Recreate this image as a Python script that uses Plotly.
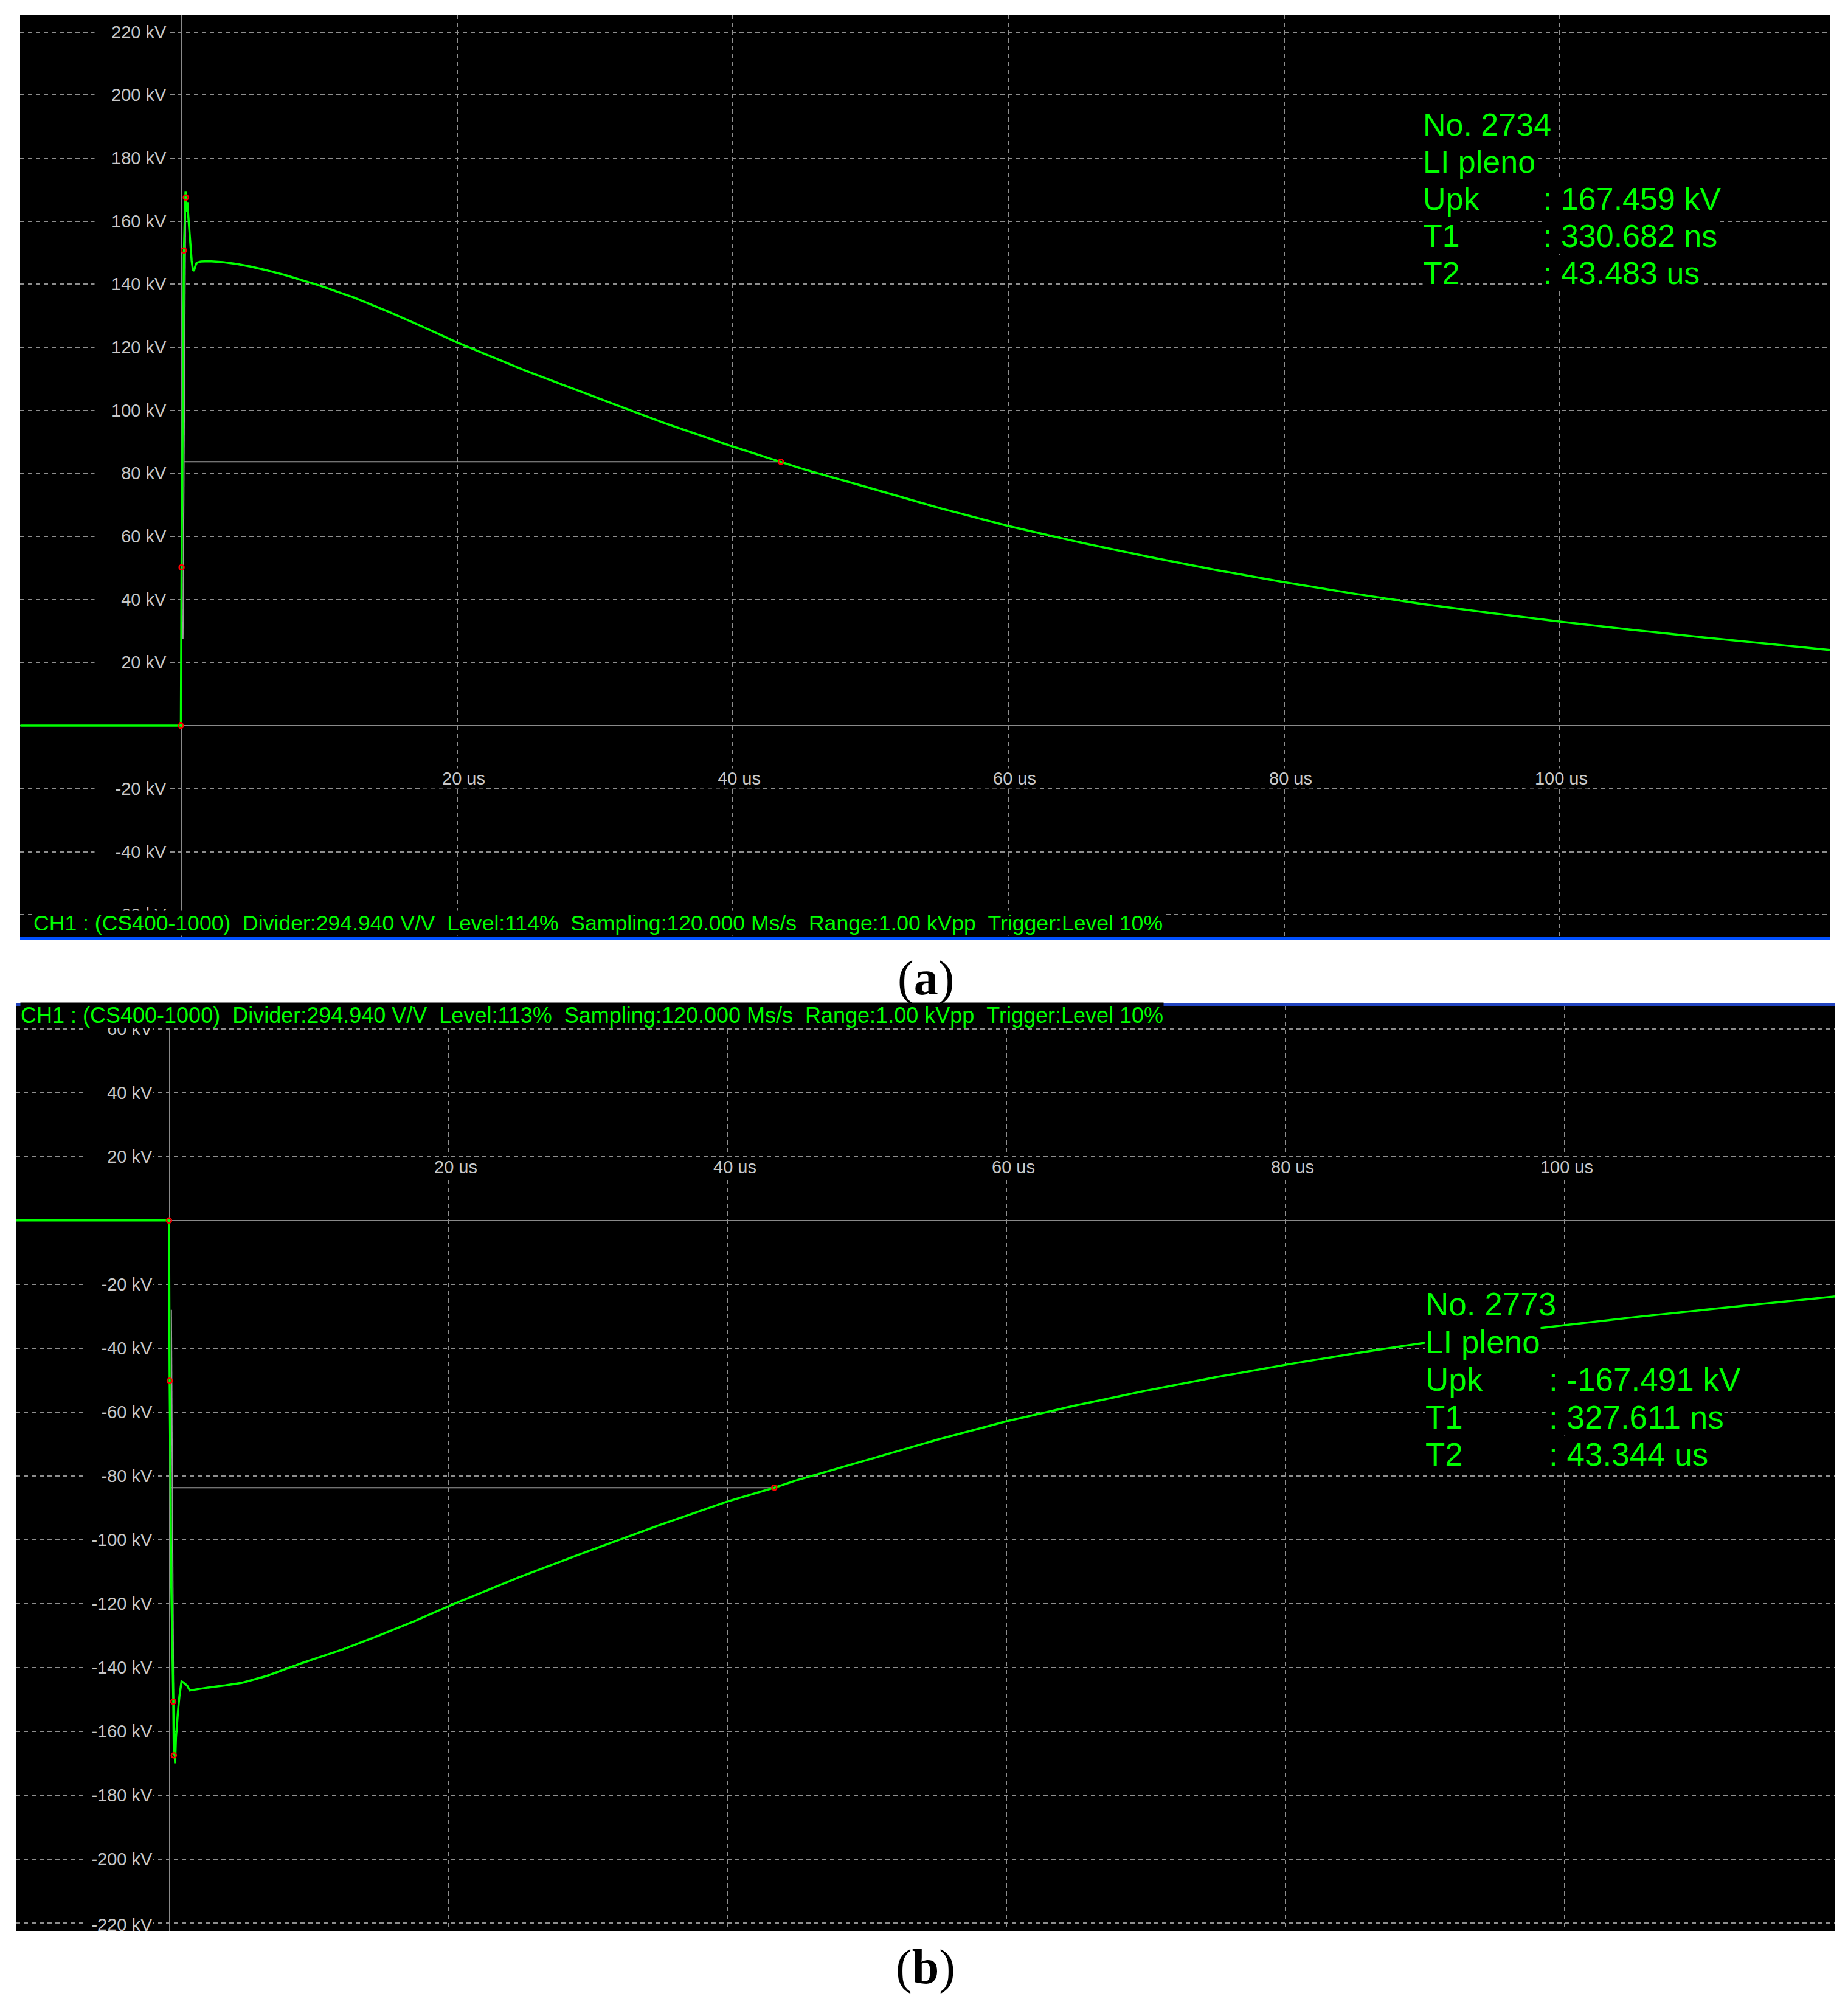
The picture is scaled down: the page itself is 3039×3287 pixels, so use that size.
import plotly.graph_objects as go

W, H = 3039, 3287

# ---------------- data: panel (a) positive impulse ----------------
t_a = [-11.7, -0.05, 0.0, 0.10, 0.17, 0.24, 0.29, 0.31, 0.36, 0.42, 0.48, 0.55, 0.64, 0.73, 0.82, 0.90,
       1.0, 1.1, 1.4, 2.0, 3.0, 4.0, 5.0, 6.0, 7.5, 9.0, 10.0, 12.5, 15.0, 17.5, 20.0, 25.0, 30.0,
       35.0, 40.0, 43.483, 45.0, 50.0, 55.0, 60.0, 65.0, 70.0, 75.0, 80.0, 85.0, 90.0, 95.0, 100.0,
       105.0, 110.0, 115.0, 119.6]
v_a = [0.0, 0.0, 50.2, 115.0, 150.7, 162.0, 169.5, 167.5, 163.0, 166.0, 162.0, 158.0, 152.6, 147.5, 144.6, 144.2,
       145.8, 146.8, 147.2, 147.3, 147.0, 146.4, 145.6, 144.6, 142.9, 141.0, 139.6, 135.8, 131.3, 126.5, 121.5, 112.5, 104.2,
       96.0, 88.5, 83.7, 81.5, 75.3, 69.0, 63.3, 58.3, 53.7, 49.4, 45.5, 41.9, 38.6, 35.7, 33.0,
       30.5, 28.2, 26.0, 24.0]
mark_t_a = [-0.05, 0.0, 0.17, 0.31, 43.483]
mark_v_a = [0.0, 50.2, 150.7, 167.5, 83.7]
front_t_a = [0.10, 0.29]
front_v_a = [27.6, 167.5]
half_t_a = [0.20, 43.483]
half_v_a = [83.7, 83.7]

# ---------------- data: panel (b) negative impulse ----------------
t_b = [-11.0, -0.05, 0.0, 0.12, 0.26, 0.30, 0.34, 0.39, 0.45, 0.52, 0.61, 0.70, 0.78, 0.85, 0.95,
       1.1, 1.25, 1.44, 2.0, 2.75, 4.0, 5.2, 7.0, 9.5, 12.5, 15.0, 17.5, 20.0, 25.0, 30.0, 35.0,
       40.0, 43.344, 45.0, 50.0, 55.0, 60.0, 65.0, 70.0, 75.0, 80.0, 85.0, 90.0, 95.0, 100.0,
       105.0, 110.0, 115.0, 119.4]
v_b = [0.0, 0.0, -50.2, -115.0, -150.7, -167.5, -164.0, -170.0, -162.0, -157.0, -153.0, -149.0, -147.0, -144.4, -144.6,
       -145.2, -145.7, -147.2, -146.8, -146.3, -145.6, -144.8, -142.6, -138.6, -134.2, -130.0, -125.6, -120.8, -111.8, -103.6, -95.6,
       -88.0, -83.7, -81.3, -75.0, -68.7, -62.9, -57.9, -53.3, -49.1, -45.2, -41.6, -38.3, -35.4, -32.8,
       -30.3, -28.0, -25.8, -23.8]
mark_t_b = [-0.05, 0.0, 0.26, 0.30, 43.344]
mark_v_b = [0.0, -50.2, -150.7, -167.5, -83.7]
front_t_b = [0.12, 0.30]
front_v_b = [-28.0, -167.5]
half_t_b = [0.08, 43.344]
half_v_b = [-83.7, -83.7]

# ---------------- tick labels ----------------
x_ticks = [20, 40, 60, 80, 100]
x_tick_labels = ["20 us", "40 us", "60 us", "80 us", "100 us"]
y_ticks_a = [-60, -40, -20, 20, 40, 60, 80, 100, 120, 140, 160, 180, 200, 220]
y_ticks_b = [60, 40, 20, -20, -40, -60, -80, -100, -120, -140, -160, -180, -200, -220]

info_labels = ["No. 2734", "LI pleno", "Upk", "T1", "T2"]
info_values_a = [": 167.459 kV", ": 330.682 ns", ": 43.483 us"]
info_labels_b = ["No. 2773", "LI pleno", "Upk", "T1", "T2"]
info_values_b = [": -167.491 kV", ": 327.611 ns", ": 43.344 us"]

NB = "\u00a0"
footer_a = ("CH1 : (CS400-1000)" + NB * 2 + "Divider:294.940 V/V" + NB * 2 + "Level:114%" + NB * 2 +
            "Sampling:120.000 Ms/s" + NB * 2 + "Range:1.00 kVpp" + NB * 2 + "Trigger:Level 10%")
header_b = ("CH1 : (CS400-1000)" + NB * 2 + "Divider:294.940 V/V" + NB * 2 + "Level:113%" + NB * 2 +
            "Sampling:120.000 Ms/s" + NB * 2 + "Range:1.00 kVpp" + NB * 2 + "Trigger:Level 10%")

# ---------------- styles ----------------
GREEN = "#00FF00"
GRID = "#8E8E8E"
ZL = "#8A8A8A"
LBL = "#C8C8C8"
SANS = "Liberation Sans, Arial, sans-serif"


def px(xp):
    return xp / W


def py(yp):
    return 1 - yp / H


fig = go.Figure()

for (ft, fv, ht, hv, tt, vv, mt, mv, xa, ya) in [
    (front_t_a, front_v_a, half_t_a, half_v_a, t_a, v_a, mark_t_a, mark_v_a, "x", "y"),
    (front_t_b, front_v_b, half_t_b, half_v_b, t_b, v_b, mark_t_b, mark_v_b, "x2", "y2"),
]:
    fig.add_trace(go.Scatter(x=ft, y=fv, mode="lines", line=dict(color="#9A9A9A", width=2),
                             xaxis=xa, yaxis=ya, hoverinfo="skip"))
    fig.add_trace(go.Scatter(x=ht, y=hv, mode="lines", line=dict(color="#9A9A9A", width=2),
                             xaxis=xa, yaxis=ya, hoverinfo="skip"))
    fig.add_trace(go.Scatter(x=tt, y=vv, mode="lines", line=dict(color=GREEN, width=3.5),
                             xaxis=xa, yaxis=ya))
    fig.add_trace(go.Scatter(x=mt, y=mv, mode="markers",
                             marker=dict(symbol="circle-open", size=8, color="#FF0000",
                                         line=dict(color="#FF0000", width=2.5)),
                             xaxis=xa, yaxis=ya))

axis_common = dict(showticklabels=False, ticks="", showgrid=True, gridcolor=GRID, gridwidth=2,
                   griddash="7px,6px", zeroline=True, zerolinecolor=ZL, zerolinewidth=2,
                   showline=False, fixedrange=True)

fig.update_layout(
    width=W, height=H, autosize=False,
    margin=dict(l=0, r=0, t=0, b=0, pad=0),
    paper_bgcolor="white", plot_bgcolor="black",
    showlegend=False, hovermode=False,
    xaxis=dict(domain=[px(33), px(3009)], range=[-11.72, 119.6], tickvals=x_ticks, anchor="y", **axis_common),
    yaxis=dict(domain=[py(1541), py(24)], range=[-67.1, 225.5], tickvals=y_ticks_a, anchor="x", **axis_common),
    xaxis2=dict(domain=[px(26), px(3018)], range=[-11.03, 119.4], tickvals=x_ticks, anchor="y2", **axis_common),
    yaxis2=dict(domain=[py(3176), py(1654)], range=[-222.7, 67.2], tickvals=y_ticks_b, anchor="x2", **axis_common),
)

ann = []
# y tick labels
for v in y_ticks_a:
    ann.append(dict(x=-1.04, y=v, xref="x", yref="y", text=f"{v} kV", showarrow=False,
                    xanchor="right", yanchor="middle", align="right", width=118, bgcolor="black",
                    borderpad=0, font=dict(family=SANS, size=29, color=LBL)))
for v in y_ticks_b:
    extra = {}
    if v == -220:
        extra = dict(height=26, valign="top")
    ann.append(dict(x=-1.18, y=v, xref="x2", yref="y2", text=f"{v} kV", showarrow=False,
                    xanchor="right", yanchor="middle", align="right", width=112, bgcolor="black",
                    borderpad=0, font=dict(family=SANS, size=29, color=LBL), **extra))
# x tick labels
for t, lab in zip(x_ticks, x_tick_labels):
    ann.append(dict(x=t + 2.08, y=-20, xref="x", yref="y", text=lab, showarrow=False,
                    xanchor="right", yanchor="bottom", align="right", width=103, bgcolor="black",
                    borderpad=0, font=dict(family=SANS, size=29, color=LBL)))
    ann.append(dict(x=t + 2.09, y=20, xref="x2", yref="y2", text=lab, showarrow=False,
                    xanchor="right", yanchor="top", align="right", width=103, bgcolor="black",
                    borderpad=0, font=dict(family=SANS, size=29, color=LBL)))

# info blocks
rows_a = [205, 266, 327, 388, 449]
rows_b = [2144, 2206, 2268, 2330, 2391]
for lab, yy in zip(info_labels, rows_a):
    ann.append(dict(x=px(2339), y=py(yy), xref="paper", yref="paper", text=lab, showarrow=False,
                    xanchor="left", yanchor="middle", bgcolor="black", borderpad=0,
                    font=dict(family=SANS, size=52, color=GREEN)))
for val, yy in zip(info_values_a, rows_a[2:]):
    ann.append(dict(x=px(2537), y=py(yy), xref="paper", yref="paper", text=val, showarrow=False,
                    xanchor="left", yanchor="middle", bgcolor="black", borderpad=0,
                    font=dict(family=SANS, size=52, color=GREEN)))
for lab, yy in zip(info_labels_b, rows_b):
    ann.append(dict(x=px(2343), y=py(yy), xref="paper", yref="paper", text=lab, showarrow=False,
                    xanchor="left", yanchor="middle", bgcolor="black", borderpad=0,
                    font=dict(family=SANS, size=53, color=GREEN)))
for val, yy in zip(info_values_b, rows_b[2:]):
    ann.append(dict(x=px(2546), y=py(yy), xref="paper", yref="paper", text=val, showarrow=False,
                    xanchor="left", yanchor="middle", bgcolor="black", borderpad=0,
                    font=dict(family=SANS, size=53, color=GREEN)))

# footer / header status lines
ann.append(dict(x=px(54), y=py(1518), xref="paper", yref="paper", text=footer_a, showarrow=False,
                xanchor="left", yanchor="middle", bgcolor="black", borderpad=0,
                font=dict(family=SANS, size=35.6, color=GREEN)))
ann.append(dict(x=px(33), y=py(1670), xref="paper", yref="paper", text=header_b, showarrow=False,
                xanchor="left", yanchor="middle", bgcolor="black", borderpad=0,
                font=dict(family=SANS, size=36, color=GREEN)))

# captions
ann.append(dict(x=px(1522), y=py(1608), xref="paper", yref="paper", text="(<b>a</b>)", showarrow=False,
                xanchor="center", yanchor="middle",
                font=dict(family="Liberation Serif, Times New Roman, serif", size=80, color="black")))
ann.append(dict(x=px(1522), y=py(3234), xref="paper", yref="paper", text="(<b>b</b>)", showarrow=False,
                xanchor="center", yanchor="middle",
                font=dict(family="Liberation Serif, Times New Roman, serif", size=80, color="black")))

fig.update_layout(annotations=ann)

# blue frame lines
fig.update_layout(shapes=[
    dict(type="rect", xref="paper", yref="paper", x0=px(33), x1=px(3009), y0=py(1546), y1=py(1541),
         fillcolor="#0050FF", line=dict(width=0), layer="above"),
    dict(type="rect", xref="paper", yref="paper", x0=px(26), x1=px(3018), y0=py(1654), y1=py(1650),
         fillcolor="#2244C0", line=dict(width=0), layer="above"),
])

fig.write_html("out.html", config={"displayModeBar": False},
               post_script="document.body.style.margin='0';")
